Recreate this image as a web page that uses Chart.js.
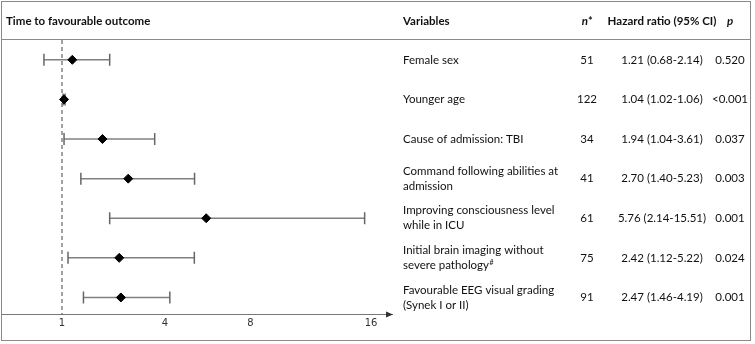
<!DOCTYPE html>
<html>
<head>
<meta charset="utf-8">
<script src="https://cdn.jsdelivr.net/npm/chart.js@4.4.1/dist/chart.umd.min.js"></script>
<style>
  body { margin: 0; background: #fff; }
</style>
</head>
<body>
<canvas id="forest" width="755" height="344"></canvas>
<script>
const variables = [
  ['Female sex'],
  ['Younger age'],
  ['Cause of admission: TBI'],
  ['Command following abilities at', 'admission'],
  ['Improving consciousness level', 'while in ICU'],
  ['Initial brain imaging without', 'severe pathology#'],
  ['Favourable EEG visual grading', '(Synek I or II)'],
];
const nValues = [51, 122, 34, 41, 61, 75, 91];
const hazardRatios = [1.21, 1.04, 1.94, 2.70, 5.76, 2.42, 2.47];
const ciLower = [0.68, 1.02, 1.04, 1.40, 2.14, 1.12, 1.46];
const ciUpper = [2.14, 1.06, 3.61, 5.23, 15.51, 5.22, 4.19];
const pValues = ['0.520', '<0.001', '0.037', '0.003', '0.001', '0.024', '0.001'];
const tickValues = [1, 4, 8, 16];

// axis is square-root spaced
const sq = v => Math.sqrt(v);
const FONT = 'Lato';
const SIZE = 11.5;

const barSets = variables.map((v, i) => ({
  type: 'line',
  data: [{x: sq(ciLower[i]), y: i}, {x: sq(ciUpper[i]), y: i}],
  borderColor: '#808080',
  borderWidth: 1.5,
  pointStyle: 'line',
  rotation: 90,
  pointRadius: 6,
  pointBorderColor: '#666',
  pointBorderWidth: 1.5,
  order: 1,
}));

const refLine = {
  type: 'line',
  data: [{x: 1, y: -0.5}, {x: 1, y: 6.43}],
  borderColor: '#444',
  borderWidth: 1,
  borderDash: [4, 3],
  pointRadius: 0,
  order: 2,
};

const points = {
  type: 'scatter',
  data: hazardRatios.map((hr, i) => ({x: sq(hr), y: i})),
  pointStyle: 'rectRot',
  pointRadius: 4.5,
  backgroundColor: '#000',
  borderColor: '#000',
  order: 0,
};

const tablePlugin = {
  id: 'table',
  afterDraw(chart) {
    const ctx = chart.ctx;
    const y = chart.scales.y;
    const area = chart.chartArea;
    ctx.save();
    // frame
    ctx.strokeStyle = '#8a8a8a';
    ctx.lineWidth = 1;
    ctx.strokeRect(1.5, 1.5, 749, 339);
    ctx.beginPath();
    ctx.moveTo(1.5, 39.5);
    ctx.lineTo(750.5, 39.5);
    ctx.stroke();

    // arrow at end of axis
    ctx.fillStyle = '#333';
    ctx.beginPath();
    ctx.moveTo(area.right + 1, area.bottom);
    ctx.lineTo(area.right - 6, area.bottom - 3);
    ctx.lineTo(area.right - 6, area.bottom + 3);
    ctx.closePath();
    ctx.fill();

    // header
    ctx.fillStyle = '#111';
    ctx.textBaseline = 'middle';
    ctx.font = 'bold ' + SIZE + 'px ' + FONT;
    ctx.textAlign = 'left';
    ctx.fillText('Time to favourable outcome', 6, 21);
    ctx.fillText('Variables', 403, 21);
    ctx.textAlign = 'center';
    ctx.fillText('Hazard ratio (95% CI)', 662, 21);
    ctx.font = 'italic bold ' + SIZE + 'px ' + FONT;
    ctx.fillText('n*', 587, 21);
    ctx.fillText('p', 730, 21);

    // rows
    ctx.font = SIZE + 'px ' + FONT;
    variables.forEach((lines, i) => {
      const cy = y.getPixelForValue(i);
      ctx.textAlign = 'left';
      lines.forEach((t, k) => {
        const ly = cy + (k - (lines.length - 1) / 2) * 15;
        if (t.endsWith('#')) {
          const base = t.slice(0, -1);
          ctx.font = SIZE + 'px ' + FONT;
          ctx.fillText(base, 403, ly);
          const w = ctx.measureText(base).width;
          ctx.font = '7px ' + FONT;
          ctx.fillText('#', 403 + w + 0.5, ly - 3);
          ctx.font = SIZE + 'px ' + FONT;
        } else {
          ctx.fillText(t, 403, ly);
        }
      });
      ctx.textAlign = 'center';
      ctx.fillText(String(nValues[i]), 587, cy);
      ctx.fillText(hazardRatios[i].toFixed(2) + ' (' + ciLower[i].toFixed(2) + '-' + ciUpper[i].toFixed(2) + ')', 662, cy);
      ctx.fillText(pValues[i], 730, cy);
    });
    ctx.restore();
  }
};

new Chart(document.getElementById('forest'), {
  data: { datasets: [points, ...barSets, refLine] },
  options: {
    responsive: false,
    animation: false,
    layout: { autoPadding: false, padding: { left: 2, right: 363, top: 40, bottom: 2.5 } },
    plugins: { legend: { display: false }, tooltip: { enabled: false } },
    scales: {
      x: {
        type: 'linear',
        min: 1 - 60 / 103,
        max: 1 + 330 / 103,
        grid: { display: false, drawTicks: false },
        border: { display: true, color: '#777', width: 1 },
        afterBuildTicks: scale => { scale.ticks = tickValues.map(v => ({ value: sq(v) })); },
        afterFit: scale => { scale.height = 27; },
        ticks: {
          padding: 3,
          color: '#333',
          font: { family: 'DejaVu Sans', size: 10 },
          callback: (value, index) => tickValues[index],
        },
      },
      y: {
        type: 'linear',
        display: false,
        reverse: true,
        min: -0.5,
        max: 6.43,
      },
    },
  },
  plugins: [tablePlugin],
});
</script>
</body>
</html>
